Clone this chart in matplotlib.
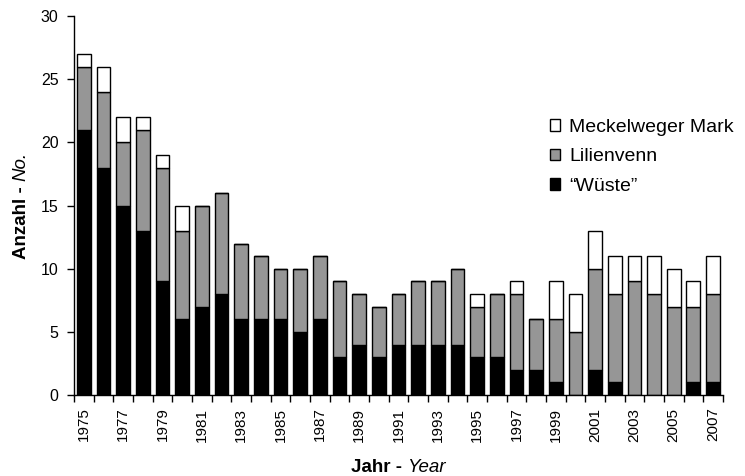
import numpy as np
import matplotlib
matplotlib.use("Agg")
import matplotlib.pyplot as plt

plt.rcParams["font.family"] = ["Liberation Sans", "DejaVu Sans"]

# Daten
years = list(range(1975, 2008))
wueste = [21, 18, 15, 13, 9, 6, 7, 8, 6, 6, 6, 5, 6, 3, 4, 3, 4, 4, 4, 4, 3, 3, 2, 2, 1, 0, 2, 1, 0, 0, 0, 1, 1]
lilienvenn = [5, 6, 5, 8, 9, 7, 8, 8, 6, 5, 4, 5, 5, 6, 4, 4, 4, 5, 5, 6, 4, 5, 6, 4, 5, 5, 8, 7, 9, 8, 7, 6, 7]
meckelweger = [1, 2, 2, 1, 1, 2, 0, 0, 0, 0, 0, 0, 0, 0, 0, 0, 0, 0, 0, 0, 1, 0, 1, 0, 3, 3, 3, 3, 2, 3, 3, 2, 3]
labels = ["Meckelweger Mark", "Lilienvenn", "\u201cW\u00fcste\u201d"]

fig = plt.figure(figsize=(7.45, 4.76), dpi=100)
ax = fig.add_axes([0.0993, 0.170, 0.871, 0.796])

x = np.arange(len(years))
w = np.array(wueste)
l = np.array(lilienvenn)
m = np.array(meckelweger)
b1 = ax.bar(x, w, 0.7, color="black", edgecolor="black", linewidth=1)
b2 = ax.bar(x, l, 0.7, bottom=w, color="#969696", edgecolor="black", linewidth=1)
b3 = ax.bar(x, m, 0.7, bottom=w + l, color="white", edgecolor="black", linewidth=1)

ax.set_xlim(-0.5, len(years) - 0.5)
ax.set_ylim(0, 30)
ax.set_yticks(range(0, 31, 5))
ax.set_xticks(x[::2])
ax.set_xticklabels([str(y) for y in years[::2]], rotation=90)
ax.set_xticks(np.arange(-0.5, len(years), 1), minor=True)
ax.tick_params(axis="x", which="major", length=0, labelsize=11, pad=9)
ax.tick_params(axis="x", which="minor", length=5, width=1)
ax.tick_params(axis="y", length=5, width=1, labelsize=11.5, pad=6)

for s in ["top", "right"]:
    ax.spines[s].set_visible(False)
ax.spines["left"].set_linewidth(1)
ax.spines["bottom"].set_linewidth(1)

# Achsentitel: fett + kursiv
fig.canvas.draw()
r = fig.canvas.get_renderer()
t1 = fig.text(0, 0, "Jahr - ", fontsize=13.5, fontweight="bold")
t2 = fig.text(0, 0, "Year", fontsize=13.5, style="italic")
w1 = t1.get_window_extent(r).width
w2 = t2.get_window_extent(r).width
cx = 398
x0 = cx - (w1 + w2) / 2
t1.set_position((x0 / 745, (476 - 467) / 476))
t1.set_va("center")
t2.set_position(((x0 + w1) / 745, (476 - 467) / 476))
t2.set_va("center")

t3 = fig.text(0, 0, "Anzahl - ", fontsize=13.5, fontweight="bold", rotation=90)
t4 = fig.text(0, 0, "No.", fontsize=13.5, style="italic", rotation=90)
h3 = t3.get_window_extent(r).height
h4 = t4.get_window_extent(r).height
cy = 476 - 205
y0 = cy - (h3 + h4) / 2
t3.set_position((21 / 745, y0 / 476))
t3.set_ha("center")
t3.set_va("bottom")
t4.set_position((21 / 745, (y0 + h3) / 476))
t4.set_ha("center")
t4.set_va("bottom")

leg = ax.legend([b3, b2, b1], labels, loc="upper left", bbox_to_anchor=(0.718, 0.755),
                frameon=False, fontsize=14, handlelength=0.55, handleheight=0.55,
                handletextpad=0.45, labelspacing=0.65, borderpad=0)

fig.savefig("out.png", dpi=100)
